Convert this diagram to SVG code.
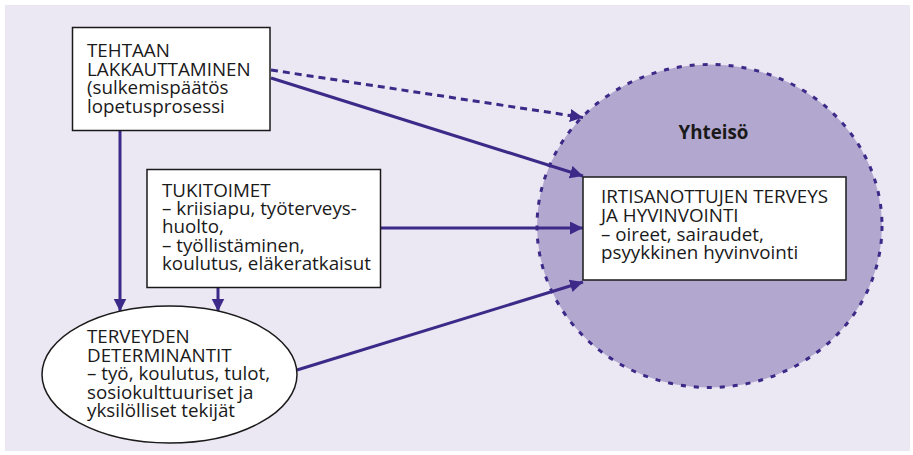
<svg xmlns="http://www.w3.org/2000/svg" width="913" height="455" viewBox="0 0 913 455">
<style>
.t{font-family:"Open Sans","Liberation Sans",sans-serif;font-size:18.8px;fill:#1a1a1a}
.b{font-weight:bold;text-anchor:middle}
.box{fill:#ffffff;stroke:#1a1a1a;stroke-width:1.5}
.c{stroke:#3d2a88;stroke-width:3;fill:none}
.d{stroke-dasharray:7 5}
</style>
<defs>
<marker id="ah" markerUnits="userSpaceOnUse" markerWidth="14" markerHeight="14" refX="13" refY="6.5" orient="auto">
<path d="M0,0 L13,6.5 L0,13 z" fill="#3d2a88"/>
</marker>
</defs>
<rect x="5" y="5" width="905" height="446" fill="#ebe7f3"/>
<g id="yhteiso">
<ellipse cx="709.5" cy="226" rx="172.5" ry="161.5" fill="#b2a8cf" stroke="#3d2a88" stroke-width="3" stroke-dasharray="5 8"/>
<text class="t b" x="713.5" y="139">Yhteisö</text>
</g>
<g id="connectors">
<line class="c d" x1="271" y1="70" x2="583" y2="117.5" marker-end="url(#ah)"/>
<line class="c" x1="271" y1="78" x2="583" y2="176" marker-end="url(#ah)"/>
<line class="c" x1="381" y1="228" x2="583" y2="228" marker-end="url(#ah)"/>
<line class="c" x1="297" y1="370" x2="583" y2="282" marker-end="url(#ah)"/>
<line class="c" x1="120" y1="131" x2="120" y2="311.5" marker-end="url(#ah)"/>
<line class="c" x1="218" y1="288" x2="218" y2="311.5" marker-end="url(#ah)"/>
</g>
<g id="tehtaan">
<rect class="box" x="72.5" y="27.5" width="197.5" height="103"/>
<text class="t" x="87" y="57.3"><tspan x="87">TEHTAAN</tspan><tspan x="87" dy="18.5">LAKKAUTTAMINEN</tspan><tspan x="87" dy="18.5">(sulkemispäätös</tspan><tspan x="87" dy="18.5">lopetusprosessi</tspan></text>
</g>
<g id="tukitoimet">
<rect class="box" x="147" y="169.5" width="233.5" height="118"/>
<text class="t" x="162" y="196.7"><tspan x="162">TUKITOIMET</tspan><tspan x="162" dy="18.3">– kriisiapu, työterveys-</tspan><tspan x="162" dy="18.3">huolto,</tspan><tspan x="162" dy="18.3">– työllistäminen,</tspan><tspan x="162" dy="18.3">koulutus, eläkeratkaisut</tspan></text>
</g>
<g id="determinantit">
<ellipse cx="169.5" cy="374.5" rx="127.5" ry="68.5" fill="#ffffff" stroke="#1a1a1a" stroke-width="1.5"/>
<text class="t" x="87" y="343.3"><tspan x="87">TERVEYDEN</tspan><tspan x="87" dy="18.5">DETERMINANTIT</tspan><tspan x="87" dy="18.5">– työ, koulutus, tulot,</tspan><tspan x="87" dy="18.5">sosiokulttuuriset ja</tspan><tspan x="87" dy="18.5">yksilölliset tekijät</tspan></text>
</g>
<g id="irtisanottujen">
<rect class="box" x="583" y="177" width="263" height="103"/>
<text class="t" x="601" y="203"><tspan x="601">IRTISANOTTUJEN TERVEYS</tspan><tspan x="601" dy="18.8">JA HYVINVOINTI</tspan><tspan x="601" dy="18.8">– oireet, sairaudet,</tspan><tspan x="601" dy="18.8">psyykkinen hyvinvointi</tspan></text>
</g>
</svg>
